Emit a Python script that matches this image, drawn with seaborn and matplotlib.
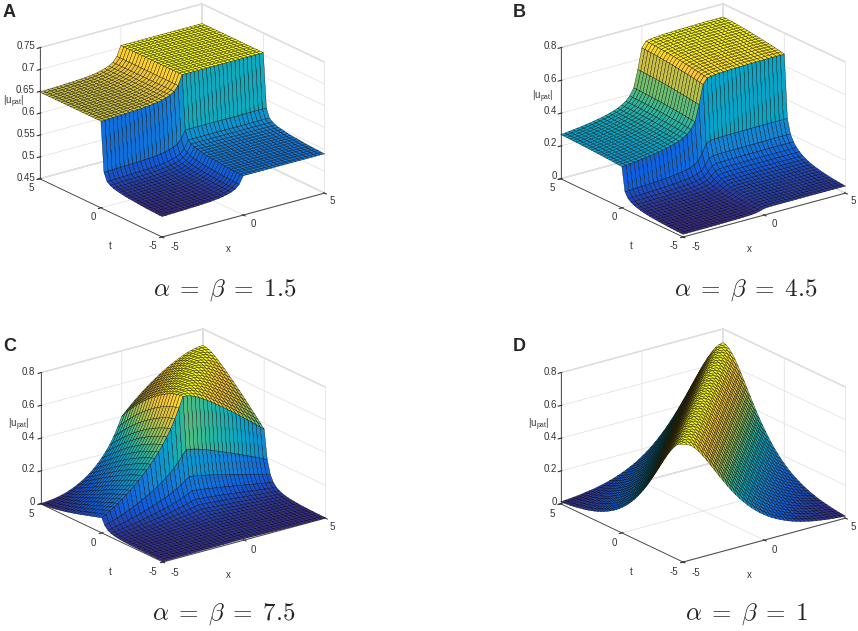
import numpy as np
import matplotlib
matplotlib.use("Agg")
import matplotlib.pyplot as plt
import seaborn as sns
from matplotlib.colors import LinearSegmentedColormap, Normalize

sns.set_style("white")
plt.rcParams['font.family'] = ['Liberation Sans', 'DejaVu Sans']
plt.rcParams['mathtext.fontset'] = 'cm'
plt.rcParams['axes.unicode_minus'] = False
plt.rcParams['grid.color'] = '#e3e3e3'
plt.rcParams['grid.linewidth'] = 0.6
plt.rcParams['axes.edgecolor'] = '#3a3a3a'
plt.rcParams['axes.linewidth'] = 0.6
plt.rcParams['xtick.color'] = '#333333'
plt.rcParams['ytick.color'] = '#333333'

# common mesh for x and t (-5..5, step 0.25)
grid_x = np.linspace(-5, 5, 41)
grid_t = np.linspace(-5, 5, 41)

# panel A  (alpha = beta = 1.5): |u| = amp * F(x) * G(t)
a_amp = 0.705
a_fx_neg = [0.920, 0.920, 0.921, 0.921, 0.922, 0.922, 0.923, 0.924, 0.924, 0.925,
            0.926, 0.927, 0.928, 0.930, 0.932, 0.935, 0.939, 0.944, 0.952, 0.968]
a_fx_pos = [1.0] * 21
a_gt_neg = [0.766, 0.766, 0.767, 0.767, 0.768, 0.768, 0.769, 0.770, 0.771, 0.772,
            0.773, 0.774, 0.775, 0.777, 0.779, 0.781, 0.784, 0.789, 0.797, 0.825]
a_gt_pos = [1.0] * 21

# panel B  (alpha = beta = 4.5)
b_fx_neg = [0.270, 0.272, 0.275, 0.278, 0.281, 0.284, 0.288, 0.292, 0.296, 0.301,
            0.306, 0.312, 0.319, 0.327, 0.336, 0.349, 0.366, 0.392, 0.435, 0.540]
b_fx_pos = [0.665, 0.700, 0.705, 0.708, 0.710, 0.712, 0.713, 0.714, 0.715, 0.716, 0.717,
            0.717, 0.718, 0.718, 0.719, 0.719, 0.720, 0.720, 0.720, 0.720, 0.720]
b_gt_neg = [0.060, 0.062, 0.064, 0.067, 0.070, 0.074, 0.078, 0.083, 0.088, 0.094,
            0.100, 0.108, 0.118, 0.130, 0.145, 0.165, 0.190, 0.225, 0.280, 0.400]
b_gt_pos = [1.0, 1.0, 0.998, 0.996, 0.994, 0.992, 0.989, 0.986, 0.983, 0.980, 0.977,
            0.973, 0.969, 0.965, 0.961, 0.957, 0.953, 0.948, 0.943, 0.938, 0.933]

# panel C  (alpha = beta = 7.5): |u| = P(x - t) * E(x) * W(t)
c_pd_left = [0.700, 0.698, 0.694, 0.688, 0.680, 0.670, 0.659, 0.647, 0.634, 0.620,
             0.605, 0.589, 0.572, 0.554, 0.535, 0.515, 0.494, 0.472, 0.449, 0.425,
             0.400, 0.375, 0.349, 0.323, 0.297, 0.271, 0.245, 0.219, 0.194, 0.170,
             0.147, 0.125, 0.104, 0.085, 0.067, 0.051, 0.037, 0.025, 0.015, 0.007, 0.0]
c_pd_right = [0.700, 0.697, 0.690, 0.680, 0.667, 0.652, 0.636, 0.619, 0.601, 0.583,
              0.565, 0.546, 0.527, 0.508, 0.488, 0.468, 0.448, 0.428, 0.407, 0.386,
              0.365, 0.345, 0.325, 0.305, 0.286, 0.267, 0.249, 0.232, 0.215, 0.199,
              0.184, 0.170, 0.156, 0.143, 0.131, 0.120, 0.110, 0.100, 0.091, 0.083, 0.075]
c_ex_neg = [0.230, 0.250, 0.270, 0.290, 0.310, 0.335, 0.360, 0.385, 0.410, 0.440,
            0.470, 0.500, 0.535, 0.570, 0.610, 0.655, 0.705, 0.760, 0.830, 0.910]
c_ex_pos = [1.0] * 21
c_wt_neg = [0.024, 0.026, 0.028, 0.030, 0.032, 0.035, 0.038, 0.042, 0.046, 0.051,
            0.057, 0.064, 0.073, 0.085, 0.100, 0.125, 0.160, 0.220, 0.330, 0.550]
c_wt_pos = [1.0] * 21

# panel D  (alpha = beta = 1): |u| = P(|x - t|)
d_pd = [0.716, 0.711, 0.697, 0.674, 0.645, 0.612, 0.576, 0.538, 0.500, 0.462,
        0.425, 0.389, 0.355, 0.323, 0.293, 0.265, 0.239, 0.215, 0.193, 0.173,
        0.155, 0.138, 0.123, 0.110, 0.098, 0.087, 0.077, 0.068, 0.060, 0.053,
        0.047, 0.041, 0.036, 0.032, 0.028, 0.024, 0.021, 0.018, 0.016, 0.014, 0.012]

captions = [r"$\alpha \;=\; \beta \;=\; 1.5$", r"$\alpha \;=\; \beta \;=\; 4.5$",
            r"$\alpha \;=\; \beta \;=\; 7.5$", r"$\alpha \;=\; \beta \;=\; 1$"]
letters = ["A", "B", "C", "D"]
xt_ticks = [-5, 0, 5]
xt_labels = ["-5", "0", "5"]

# build the surfaces
ii = np.arange(41)
lag = ii[None, :] - ii[:, None]          # column (x) minus row (t)

z_a = a_amp * np.outer(a_gt_neg + a_gt_pos, a_fx_neg + a_fx_pos)
z_b = np.outer(b_gt_neg + b_gt_pos[::-1], b_fx_neg + b_fx_pos)
c_full = np.array(c_pd_left[::-1] + c_pd_right[1:])
z_c = (c_full[lag + 40] * np.array(c_ex_neg + c_ex_pos)[None, :]
       * np.array(c_wt_neg + c_wt_pos)[:, None])
z_d = np.array(d_pd)[np.abs(lag)]

surfaces = [z_a, z_b, z_c, z_d]
zlims = [(0.45, 0.75), (0, 0.8), (0, 0.8), (0, 0.8)]
zticks = [[0.45, 0.5, 0.55, 0.6, 0.65, 0.7, 0.75], [0, 0.2, 0.4, 0.6, 0.8],
          [0, 0.2, 0.4, 0.6, 0.8], [0, 0.2, 0.4, 0.6, 0.8]]
zticklabels = [["0.45", "0.5", "0.55", "0.6", "0.65", "0.7", "0.75"],
               ["0", "0.2", "0.4", "0.6", "0.8"], ["0", "0.2", "0.4", "0.6", "0.8"],
               ["0", "0.2", "0.4", "0.6", "0.8"]]

parula = LinearSegmentedColormap.from_list(
    "parula", ['#352a87', '#0f5cdd', '#1481d6', '#06a4ca', '#2eb79a',
               '#8cc25a', '#d2c040', '#fec832', '#f9fb0e'])

fig = plt.figure(figsize=(8.58, 6.31), dpi=100)
w, h = 0.4167, 0.4924
rects = [[-0.001, 0.5563, w, h], [0.6062, 0.5563, w, h],
         [0.000, 0.0412, w, h], [0.6062, 0.0412, w, h]]
X, T = np.meshgrid(grid_x, grid_t)

for k in range(4):
    ax = fig.add_axes(rects[k], projection='3d')
    z = surfaces[k]
    norm = Normalize(z.min(), z.max())
    ax.plot_surface(X, T, z, facecolors=parula(norm(z)), edgecolor='k',
                    linewidth=0.25, shade=False, rstride=1, cstride=1)
    ax.set_proj_type('ortho')
    ax.view_init(elev=21, azim=-127)
    ax.set_box_aspect((1, 1, 0.69))
    ax.set_xlim(-5, 5)
    ax.set_ylim(-5, 5)
    ax.set_zlim(*zlims[k])
    ax.set_xticks(xt_ticks)
    ax.set_yticks(xt_ticks)
    ax.set_zticks(zticks[k])
    ax.set_xticklabels([""] * 3)
    ax.set_yticklabels([""] * 3)
    ax.set_zticklabels([""] * len(zticks[k]))
    for axis in (ax.xaxis, ax.yaxis, ax.zaxis):
        axis.set_pane_color((1, 1, 1, 1))
        axis.pane.set_edgecolor('#d0d0d0')

# tick labels, axis names and captions, placed as MATLAB put them
shift = [(0, 0), (521, 0), (0, 326), (521, 326)]
t_tick_pos = [(31, 188), (93, 217), (153, 246)]     # t = 5, 0, -5
x_tick_pos = [(175, 247), (253, 224), (332, 201)]   # x = -5, 0, 5
z_right = [35, 557, 35, 557]
z_base = [178, 176, 502, 502]                       # pixel row of the lowest z tick
z_step = [22, 32.5, 32.5, 32.5]                     # pixels between z ticks
u_pos = [(3, 101.5), (532, 97), (8, 425), (528, 425)]
cap_pos = [(225, 290), (746, 290), (224, 614), (747, 614)]
let_pos = [(3, 4), (513, 4), (3, 338), (513, 338)]


def put(px, py, s, **kw):
    fig.text(px / 858, 1 - py / 631, s, **kw)


tick_kw = dict(fontsize=7, color='#333333', va='center')
for k in range(4):
    sx, sy = shift[k]
    for (px, py), s in zip(t_tick_pos, xt_labels[::-1]):
        put(px + sx, py + sy, s, ha='center', **tick_kw)
    for (px, py), s in zip(x_tick_pos, xt_labels):
        put(px + sx, py + sy, s, ha='center', **tick_kw)
    for n, s in enumerate(zticklabels[k]):
        put(z_right[k], z_base[k] - n * z_step[k], s, ha='right', **tick_kw)
    put(110 + sx, 246 + sy, "t", ha='center', **tick_kw)
    put(228 + sx, 249 + sy, "x", ha='center', **tick_kw)
    put(u_pos[k][0], u_pos[k][1], r"$\mathregular{|u_{pat}|}$", fontsize=7,
        color='#333333', ha='left', va='center')
    put(cap_pos[k][0], cap_pos[k][1], captions[k], fontsize=18, ha='center', va='center')
    put(let_pos[k][0], let_pos[k][1], letters[k], fontsize=13, fontweight='bold',
        ha='left', va='top')

fig.savefig("out.png", dpi=100)
